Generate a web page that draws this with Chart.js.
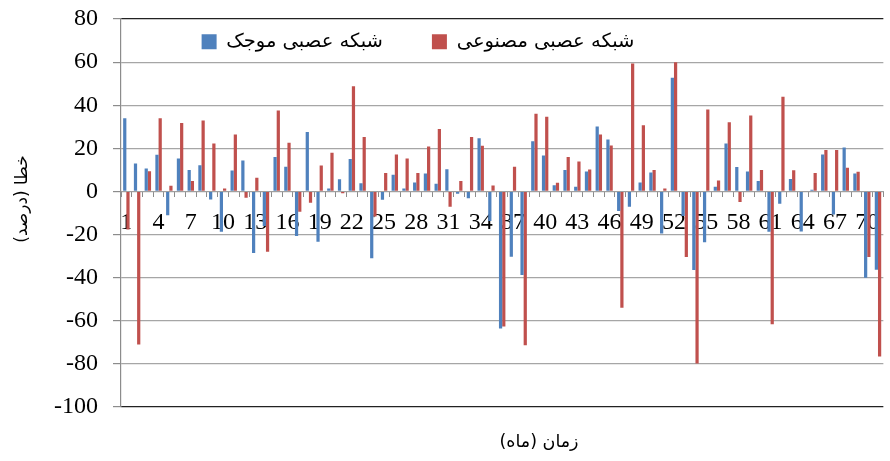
<!DOCTYPE html>
<html>
<head>
<meta charset="utf-8">
<script src="https://cdn.jsdelivr.net/npm/chart.js@4/dist/chart.umd.min.js"></script>
<style>
    html, body { margin: 0; padding: 0; background: #fff; }
    #wrap { width: 890px; height: 461px; position: relative; }
</style>
</head>
<body>
<div id="wrap"><canvas id="errorChart"></canvas></div>
<script>
    // months 1..71
    const months = ['1', '2', '3', '4', '5', '6', '7', '8', '9', '10',
        '11', '12', '13', '14', '15', '16', '17', '18', '19', '20',
        '21', '22', '23', '24', '25', '26', '27', '28', '29', '30',
        '31', '32', '33', '34', '35', '36', '37', '38', '39', '40',
        '41', '42', '43', '44', '45', '46', '47', '48', '49', '50',
        '51', '52', '53', '54', '55', '56', '57', '58', '59', '60',
        '61', '62', '63', '64', '65', '66', '67', '68', '69', '70', '71'];

    const shownLabels = ['1', '4', '7', '10', '13', '16', '19', '22', '25', '28', '31', '34',
        '37', '40', '43', '46', '49', '52', '55', '58', '61', '64', '67', '70'];

    const yTicks = [-100, -80, -60, -40, -20, 0, 20, 40, 60, 80];

    // wavelet neural network error (%)
    const waveletError = [34, 13, 10.7, 17, -11, 15.3, 10, 12.2, -3.7, -18.7,
        9.7, 14.4, -28.6, -16, 16, 11.4, -20.7, 27.6, -23.3, 1.4,
        5.6, 15.1, 3.8, -31, -3.9, 7.7, 1.4, 4.2, 8.3, 3.6,
        10.3, -1.1, -3.1, 24.7, -13.7, -63.6, -30.3, -38.8, 23.3, 16.7,
        2.9, 10, 2.2, 9.3, 30.1, 24.1, -9.1, -7.1, 4.2, 8.8,
        -19.5, 52.8, -11.4, -36.4, -23.6, 2.2, 22.2, 11.3, 9.3, 4.9,
        -18.7, -5.7, 5.8, -18.6, 0.8, 17.1, -10.7, 20.4, 8.3, -40, -36.3];

    // artificial neural network error (%)
    const annError = [-17.6, -71, 9.4, 34, 2.6, 31.8, 4.8, 32.9, 22.2, 1.4,
        26.4, -2.9, 6.3, -28, 37.5, 22.6, -9.4, -5.3, 12, 17.9,
        -0.8, 48.8, 25.2, -11.6, 8.6, 17.1, 15.3, 8.6, 20.8, 29,
        -7.1, 4.9, 25.2, 21.2, 2.8, -62.7, 11.4, -71.4, 36, 34.7,
        4, 16, 13.9, 10.2, 26.4, 21.3, -53.9, 59.3, 30.7, 10,
        1.4, 59.9, -30.4, -79.8, 38, 5.1, 32.1, -4.9, 35.2, 10,
        -61.6, 43.9, 9.8, 0, 8.5, 19.2, 19.2, 11, 9.1, -30.4, -76.6];

    const persianFont = "'DejaVu Sans', 'Noto Sans', sans-serif";
    const numberFont = "'Liberation Serif', 'DejaVu Serif', serif";

    const LEGEND_ROW_Y = 32;
    const LEGEND_SHIFT = -26;
    const XTITLE_SHIFT = 95;
    const YTITLE_SHIFT = -14;

    // Excel style legend: sits inside the plot area instead of taking space above it
    const overlayPlugin = {
        id: 'overlayLegend',
        beforeLayout(chart) {
            const lg = chart.legend;
            if (lg && !lg._flat) {
                const fit = lg.fit;
                lg.fit = function () {
                    fit.call(this);
                    this._realHeight = this.height;
                    this.height = 0;
                };
                lg._flat = true;
            }
        },
        afterLayout(chart) {
            const lg = chart.legend;
            if (lg) {
                const pad = lg.options.labels.padding;
                lg.top = LEGEND_ROW_Y - pad;
                lg.bottom = lg.top + lg._realHeight;
                lg.left += LEGEND_SHIFT;
                lg.right += LEGEND_SHIFT;
            }
            const t = chart.titleBlock;
            if (t) {
                t.left += XTITLE_SHIFT;
                t.right += XTITLE_SHIFT;
            }
            // y title sits a bit above the middle of the axis
            const ys = chart.scales.y;
            if (ys && !ys._titleShifted) {
                const drawTitle = ys.drawTitle;
                ys.drawTitle = function () {
                    const top = this.top, bottom = this.bottom;
                    this.top += 2 * YTITLE_SHIFT;
                    this.bottom += 0;
                    drawTitle.call(this);
                    this.top = top;
                    this.bottom = bottom;
                };
                ys._titleShifted = true;
            }
        }
    };

    function setupBarChart(elementId) {
        const data = {
            labels: months,
            datasets: [
                {
                    label: 'شبکه عصبی موجک',
                    data: waveletError,
                    backgroundColor: '#4F81BD',
                    borderWidth: 0
                },
                {
                    label: 'شبکه عصبی مصنوعی',
                    data: annError,
                    backgroundColor: '#C0504D',
                    borderWidth: 0
                }
            ]
        };

        const options = {
            responsive: true,
            maintainAspectRatio: false,
            animation: false,
            layout: {
                padding: { top: 19, right: 2, left: 0, bottom: 0 }
            },
            datasets: {
                bar: {
                    categoryPercentage: 0.6,
                    barPercentage: 1
                }
            },
            plugins: {
                legend: {
                    position: 'top',
                    labels: {
                        font: { family: persianFont, size: 19.5 },
                        color: '#000',
                        boxWidth: 15,
                        boxHeight: 15,
                        padding: 49
                    }
                },
                title: {
                    display: true,
                    position: 'bottom',
                    text: 'زمان (ماه)',
                    color: '#000',
                    font: { family: persianFont, size: 17.5, weight: 'normal' },
                    padding: { top: 25, bottom: 8 }
                },
                tooltip: { enabled: false }
            },
            scales: {
                x: {
                    type: 'category',
                    position: { y: 0 },
                    grid: {
                        display: true,
                        drawOnChartArea: false,
                        drawTicks: true,
                        tickLength: 5,
                        offset: true,
                        color: '#8c8c8c'
                    },
                    border: { display: true, color: '#a0a0a0', width: 1 },
                    ticks: {
                        autoSkip: false,
                        maxRotation: 0,
                        minRotation: 0,
                        padding: 12,
                        color: '#000',
                        font: { family: numberFont, size: 24 },
                        callback: function (value, index) {
                            const lbl = months[index];
                            return shownLabels.includes(lbl) ? lbl : '';
                        }
                    }
                },
                y: {
                    min: yTicks[0],
                    max: yTicks[yTicks.length - 1],
                    afterFit: function (scale) {
                        scale.width = 121;
                    },
                    grid: {
                        color: function (ctx) {
                            const v = ctx.tick ? ctx.tick.value : null;
                            return (v === yTicks[0] || v === yTicks[yTicks.length - 1]) ? '#222' : '#a6a6a6';
                        },
                        lineWidth: 1.2,
                        tickLength: 8,
                        tickColor: '#8c8c8c'
                    },
                    border: { display: true, color: '#8c8c8c', width: 1.2 },
                    ticks: {
                        stepSize: 20,
                        padding: 15,
                        color: '#000',
                        // small line height keeps the top label from pushing the plot down
                        font: { family: numberFont, size: 24, lineHeight: 0.2 }
                    },
                    title: {
                        display: true,
                        text: 'خطا (درصد)',
                        color: '#000',
                        font: { family: persianFont, size: 17 },
                        padding: { top: 12, bottom: 0 }
                    }
                }
            }
        };

        const ctx = document.getElementById(elementId).getContext('2d');
        return new Chart(ctx, {
            type: 'bar',
            data: data,
            options: options,
            plugins: [overlayPlugin]
        });
    }

    setupBarChart('errorChart');
</script>
</body>
</html>
